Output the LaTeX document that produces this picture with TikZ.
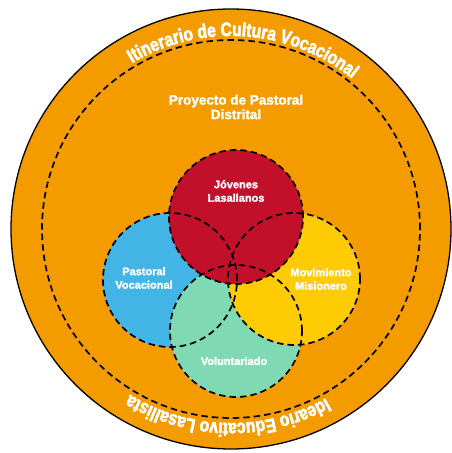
\documentclass[tikz,border=0pt]{standalone}
\usepackage{fontspec}
\setmainfont{Liberation Sans}
\newfontfamily\cond[FakeStretch = 0.8, FakeBold = 2.5]{Liberation Sans Bold}
\newfontfamily\heavy[FakeBold = 2]{Liberation Sans Bold}
\usetikzlibrary{decorations.text}

\definecolor{ringorange}{HTML}{F49B00}
\definecolor{jovred}{HTML}{C2102A}
\definecolor{vocblue}{HTML}{42B5E6}
\definecolor{misyellow}{HTML}{FFCB05}
\definecolor{volgreen}{HTML}{7FDAB4}

\tikzset{
	venn/.style = {black, line width = 1.7pt, dash pattern = on 6.5pt off 4pt},
	lbl/.style = {white, align = center, font = \heavy\fontsize{11}{13.5}\selectfont, inner sep = 0pt}
}

\begin{document}
\begin{tikzpicture}[x = 1pt, y = 1pt]

	\useasboundingbox (0, 0) rectangle (452, 453);

	% Outer ring
	
	\coordinate (c) at (231, 224);
	\fill [ringorange] (c) circle (220);
	\draw [black, line width = 1.3pt] (c) circle (220);
	\draw [venn] (c) circle (189);
	
	% Ring texts
	
	\path [decorate, decoration = {text along path, text align = center, text color = white,
		text = {|\cond\fontsize{19.5}{19.5}\selectfont|Itinerario de Cultura Vocacional}}]
		([shift = {(140 : 193)}] c) arc [start angle = 140, end angle = 32, radius = 193];
	\path [decorate, decoration = {text along path, text align = center, text color = white,
		text = {|\cond\fontsize{19.5}{19.5}\selectfont|Ideario Educativo Lasallista}}]
		([shift = {(-40 : 194)}] c) arc [start angle = -40, end angle = -142, radius = 194];
	
	\node [lbl, font = \heavy\fontsize{13.5}{14.5}\selectfont] (proyecto) at (236, 346) {Proyecto de Pastoral\\Distrital};
	
	% Venn circles
	
	\fill [vocblue] (170, 173) circle (67);
	\fill [volgreen] (236, 122) circle (66);
	\fill [misyellow] (294, 174) circle (66);
	\fill [jovred] (236, 236) circle (67);
	
	\draw [venn] (170, 173) circle (67);
	\draw [venn] (236, 122) circle (66);
	\draw [venn] (294, 174) circle (66);
	\draw [venn] (236, 236) circle (67);
	
	% Labels
	
	\node [lbl] (jovenes) at (236, 262) {Jóvenes\\Lasallanos};
	\node [lbl] (vocacional) at (144, 175) {Pastoral\\Vocacional};
	\node [lbl] (misionero) at (321, 174) {Movimiento\\Misionero};
	\node [lbl] (voluntariado) at (234, 92) {Voluntariado};

\end{tikzpicture}
\end{document}
